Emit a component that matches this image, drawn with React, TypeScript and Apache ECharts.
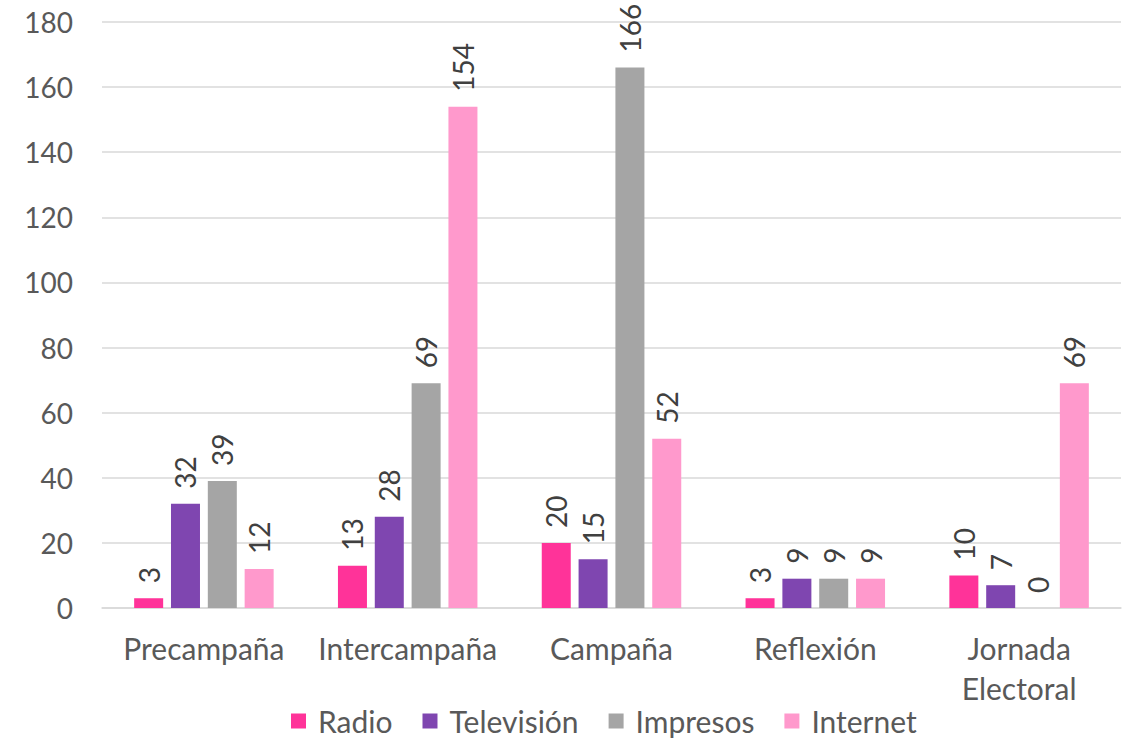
import React, { useEffect, useRef } from "react";
import * as echarts from "echarts";

const categories = ["Precampaña", "Intercampaña", "Campaña", "Reflexión", "Jornada\nElectoral"];
const radio = [3, 13, 20, 3, 10];
const television = [32, 28, 15, 9, 7];
const impresos = [39, 69, 166, 9, 0];
const internet = [12, 154, 52, 9, 69];
const seriesNames = ["Radio", "Televisión", "Impresos", "Internet"];
const colors = ["#FF3399", "#7F46B0", "#A5A5A5", "#FF99CC"];

const FONT = "Lato, 'Open Sans', sans-serif";
const TXT = "#595959";

export default function App() {
  const ref = useRef<HTMLDivElement>(null);
  useEffect(() => {
    if (!ref.current) return;
    const chart = echarts.init(ref.current, null, { renderer: "svg" });
    const data = [radio, television, impresos, internet];
    chart.setOption({
      animation: false,
      textStyle: { fontFamily: FONT },
      grid: { left: 102, right: 10, top: 22, bottom: 133, containLabel: false },
      legend: {
        top: 701,
        left: 286,
        padding: 5,
        itemWidth: 15,
        itemHeight: 15,
        itemGap: 30,
        icon: "rect",
        textStyle: { fontSize: 30, color: TXT, fontFamily: FONT, padding: [0, 0, 0, 7] },
        data: seriesNames,
      },
      xAxis: {
        type: "category",
        data: categories,
        axisLine: { show: true, lineStyle: { color: "#D9D9D9", width: 1.5 } },
        axisTick: { show: false },
        axisLabel: { interval: 0, fontSize: 30, color: TXT, margin: 20, lineHeight: 40, fontFamily: FONT },
      },
      yAxis: {
        type: "value",
        min: 0,
        max: 180,
        interval: 20,
        axisLine: { show: false },
        axisTick: { show: false },
        splitLine: { lineStyle: { color: "#D9D9D9", width: 1.5 } },
        axisLabel: { fontSize: 28, color: TXT, margin: 29, fontFamily: FONT },
      },
      series: seriesNames.map((name, i) => ({
        name,
        type: "bar",
        data: data[i],
        barWidth: 29,
        barGap: "27%",
        itemStyle: { color: colors[i] },
        label: {
          show: true,
          position: "top",
          rotate: 90,
          align: "left",
          verticalAlign: "middle",
          distance: 15,
          fontSize: 28,
          color: "#404040",
          fontFamily: FONT,
        },
      })),
    });
    return () => chart.dispose();
  }, []);
  return <div ref={ref} style={{ position: "absolute", left: 0, top: 0, width: 1131, height: 741 }} />;
}
